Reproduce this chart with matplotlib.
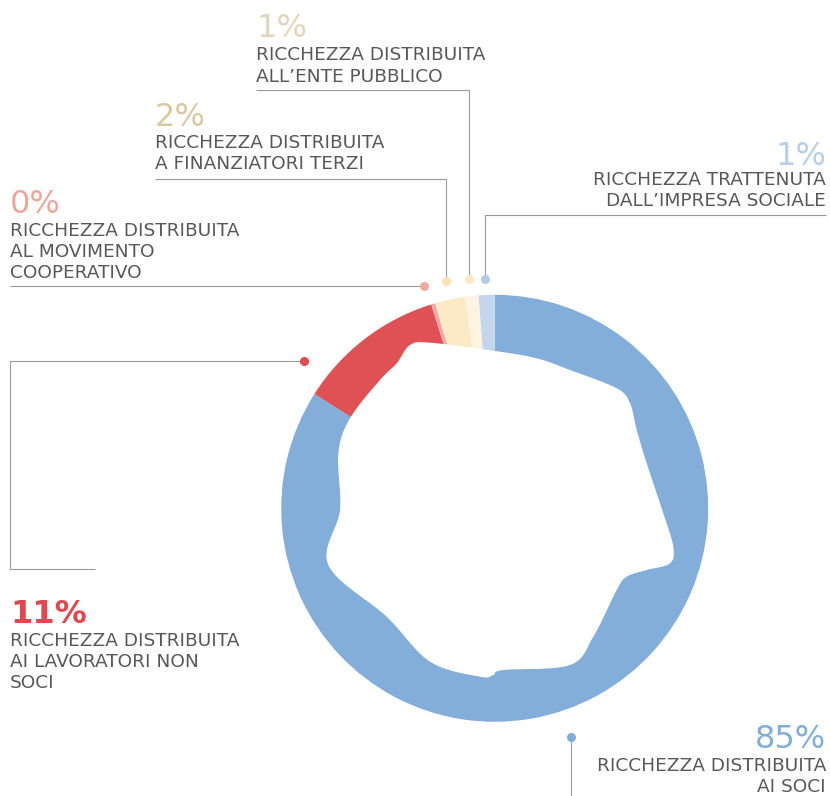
import numpy as np
import matplotlib.pyplot as plt

# data (clockwise from 12 o'clock)
categories = ["RICCHEZZA DISTRIBUITA\nAI SOCI",
              "RICCHEZZA DISTRIBUITA\nAI LAVORATORI NON\nSOCI",
              "RICCHEZZA DISTRIBUITA\nAL MOVIMENTO\nCOOPERATIVO",
              "RICCHEZZA DISTRIBUITA\nA FINANZIATORI TERZI",
              "RICCHEZZA DISTRIBUITA\nALL\u2019ENTE PUBBLICO",
              "RICCHEZZA TRATTENUTA\nDALL\u2019IMPRESA SOCIALE"]
values = [84.0, 11.2, 0.3, 2.3, 1.0, 1.2]
pct_labels = ["85%", "11%", "0%", "2%", "1%", "1%"]

wedge_colors = ["#83aed9", "#e05156", "#eeaaa2", "#fce9c6", "#fff4e1", "#c3d6ec"]
pct_colors = ["#80aedb", "#e0474f", "#eea69b", "#d8c9a3", "#e2d6bc", "#b9cfe9"]
dot_colors = ["#80aedb", "#e04a52", "#eeaaa0", "#fce3b5", "#fbe8c8", "#b3cbe9"]
pct_weights = ["normal", "bold", "normal", "normal", "normal", "normal"]

W, H = 830, 796
def Y(y):
    return H - y

# label layout in pixels: (x, align, pct baseline, first line baseline)
label_pos = [(826, "right", 748, 771),
             (10, "left", 623, 646),
             (10, "left", 213, 236),
             (155, "left", 126, 148),
             (256, "left", 37, 60.5),
             (826, "right", 165, 185)]
leaders = [[(571, 737), (571, 796)],
           [(304, 361), (10, 361), (10, 569), (95, 569)],
           [(424, 286), (10, 286)],
           [(446, 281), (446, 179), (155, 179)],
           [(469, 279), (469, 90), (256, 90)],
           [(485, 279), (485, 215), (826, 215)]]

# irregular inner hole outline (px, relative to centre, y up)
hole = [(0.3, 157.3), (42, 150), (75.3, 138.3), (122, 120), (135.3, 105),
        (142, 78.3), (152, 45), (168.6, -5), (178.6, -38.4), (175.3, -55),
        (152, -61.7), (132, -68.4), (122, -81.7), (98.6, -128.4),
        (75.3, -156.7), (8.6, -161.7), (-1.4, -166.7), (-14.7, -168.4),
        (-64.7, -153.4), (-108, -108.4), (-166.4, -56.7), (-154.7, -1.7),
        (-156.4, 55), (-144.7, 90), (-114.7, 128.3), (-98, 145),
        (-84.7, 163.3), (-64.7, 165.6)]

cx, cy, R = 494.7, Y(508.3), 213.5


def catmull_rom(pts, n=12):
    p = np.array(pts, dtype=float)
    out = []
    k = len(p)
    for i in range(k):
        p0, p1, p2, p3 = p[i - 1], p[i], p[(i + 1) % k], p[(i + 2) % k]
        for t in np.linspace(0, 1, n, endpoint=False):
            t2, t3 = t * t, t * t * t
            out.append(0.5 * ((2 * p1) + (-p0 + p2) * t
                              + (2 * p0 - 5 * p1 + 4 * p2 - p3) * t2
                              + (-p0 + 3 * p1 - 3 * p2 + p3) * t3))
    return np.array(out)


fig = plt.figure(figsize=(W / 100, H / 100), dpi=100)
ax = fig.add_axes([0, 0, 1, 1])

ax.pie(values, colors=wedge_colors, startangle=90, counterclock=False,
       radius=R, center=(cx, cy), wedgeprops=dict(linewidth=0))

outline = catmull_rom(hole)
ax.fill(outline[:, 0] + cx, outline[:, 1] + cy, color="white", zorder=3, lw=0)

for i in range(len(values)):
    pts = leaders[i]
    xs = [p[0] for p in pts]
    ys = [Y(p[1]) for p in pts]
    ax.plot(xs, ys, color="#9a9a9a", lw=0.8, zorder=4, solid_capstyle="butt")
    ax.plot(xs[0], ys[0], "o", ms=6.5, color=dot_colors[i], mec="none", zorder=5)

    x, ha, pb, lb = label_pos[i]
    ax.text(x, Y(pb), pct_labels[i], ha=ha, va="baseline", fontsize=23,
            color=pct_colors[i], fontweight=pct_weights[i], zorder=6)
    for j, line in enumerate(categories[i].split("\n")):
        ax.text(x, Y(lb + 21 * j), line, ha=ha, va="baseline", fontsize=13.3,
                color="#585858", zorder=6)

ax.set_xlim(0, W)
ax.set_ylim(0, H)
ax.set_aspect("equal")
ax.axis("off")

fig.savefig("out.png", dpi=100)
